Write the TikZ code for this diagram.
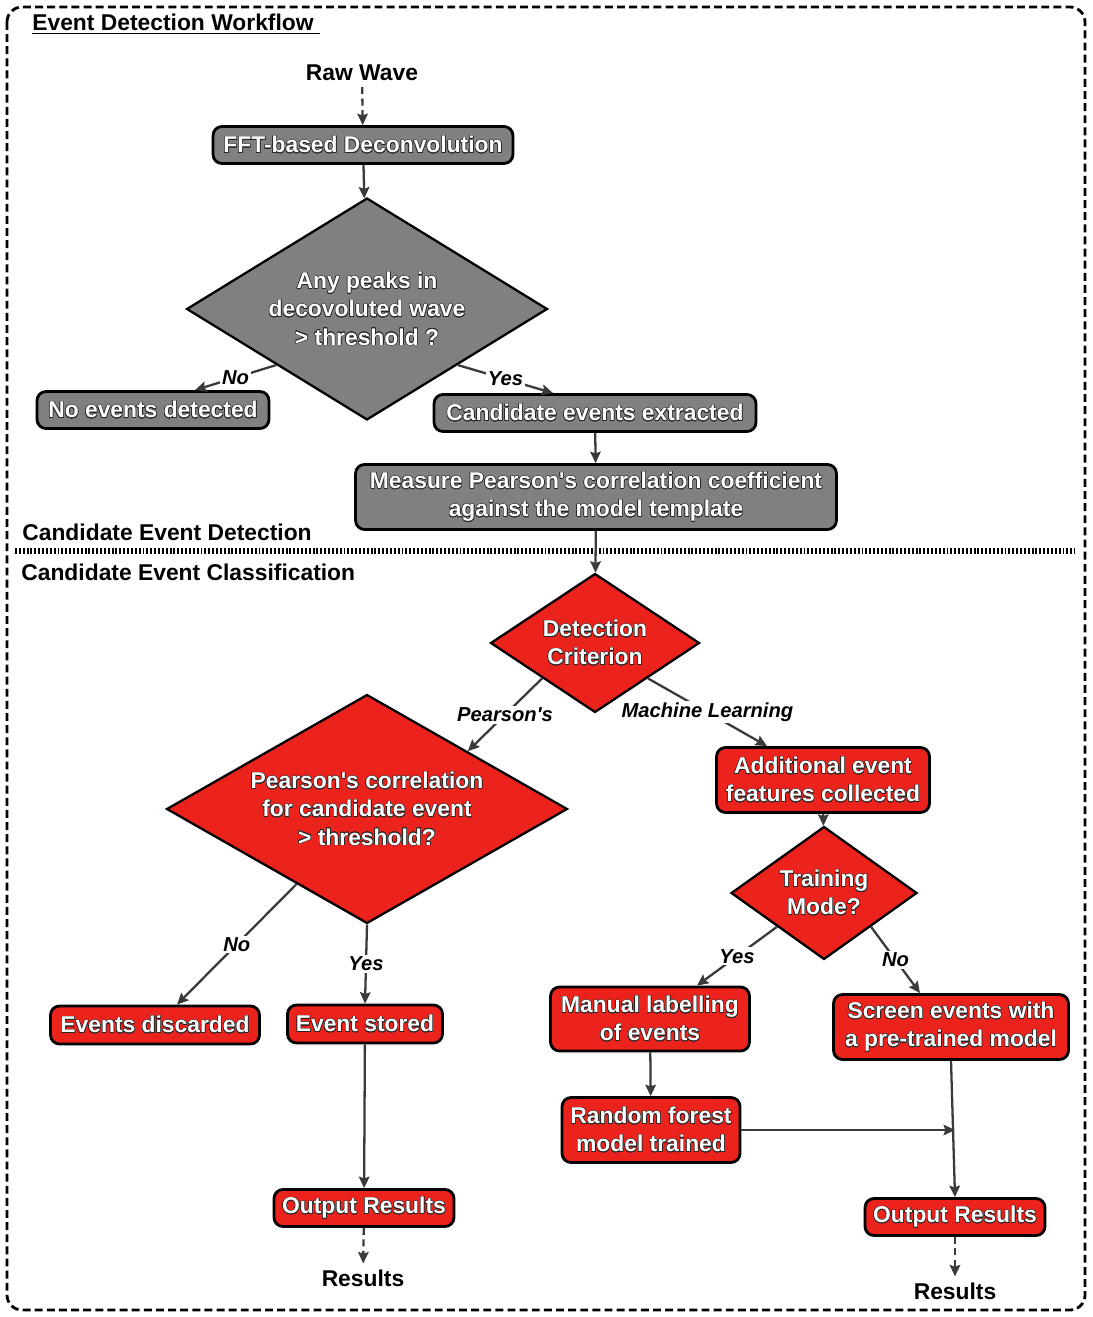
\documentclass[tikz,border=0pt]{standalone}
\usepackage{fontspec}
\setmainfont{Liberation Sans}
\usepackage{contour}
\contourlength{0.3pt}
\usetikzlibrary{arrows.meta,calc,shapes}
\definecolor{boxred}{RGB}{236,34,29}
\definecolor{boxgray}{RGB}{128,128,128}
\definecolor{linegray}{RGB}{58,58,58}
\newcommand{\ol}[1]{\contour{black!85}{#1}}

\begin{document}
\begin{tikzpicture}[x=0.02cm,y=-0.02cm]
\tikzset{>={Stealth[length=6.5pt,width=6pt,inset=1pt]},
  txt/.style={font=\fontsize{13}{16}\selectfont\bfseries},
  head/.style={txt,anchor=west,inner sep=0pt},
  box/.style={txt,draw=black,line width=1.6pt,rounded corners=0.18cm,text=white,align=center,inner sep=2pt},
  graybox/.style={box,fill=boxgray},
  redbox/.style={box,fill=boxred},
  decide/.style={txt,diamond,draw=black,line width=1.3pt,text=white,align=center,inner sep=0pt},
  flow/.style={->,draw=linegray,line width=1.3pt},
  dashflow/.style={flow,dash pattern=on 4pt off 2.5pt},
  lbl/.style={fill=white,inner sep=1pt,text=black,font=\fontsize{11.5}{14}\selectfont\bfseries\itshape}}
\useasboundingbox (0,0) rectangle (1092,1317);
\draw[line width=1.6pt,dash pattern=on 4.5pt off 2.4pt,rounded corners=0.3cm] (7,7) rectangle (1085,1310);
\draw[line width=3pt,dash pattern=on 1.1pt off 1.1pt] (15,551) -- (1075,551);

\node[head] (title) at (32,24) {\underline{Event Detection Workflow\ }};
\node[head] (detect) at (22,532) {Candidate Event Detection};
\node[head] (classify) at (21,572) {Candidate Event Classification};

\node[txt] (raw) at (362,73) {Raw Wave};
\node[graybox,minimum width=6cm,minimum height=0.74cm] (fft) at (363,145) {\ol{FFT-based Deconvolution}};
\node[decide,fill=boxgray,aspect=1.63,minimum width=7.22cm,minimum height=4.44cm] (peaks) at (367,309) {\ol{Any peaks in}\\\ol{decovoluted wave}\\\ol{> threshold ?}};
\node[graybox,minimum width=4.64cm,minimum height=0.74cm] (noev) at (153,410) {\ol{No events detected}};
\node[graybox,minimum width=6.44cm,minimum height=0.74cm] (cand) at (595,413) {\ol{Candidate events extracted}};
\node[graybox,minimum width=9.62cm,minimum height=1.3cm] (pcc) at (596,497) {\ol{Measure Pearson\textquotesingle s correlation coefficient}\\\ol{against the model template}};

\node[decide,fill=boxred,aspect=1.5,minimum width=4.18cm,minimum height=2.78cm] (crit) at (595,643) {\ol{Detection}\\\ol{Criterion}};
\node[decide,fill=boxred,aspect=1.75,minimum width=8.02cm,minimum height=4.58cm] (pear) at (367,809) {\ol{Pearson\textquotesingle s correlation}\\\ol{for candidate event}\\\ol{> threshold?}};
\node[redbox,minimum width=4.26cm,minimum height=1.3cm] (feat) at (823,780) {\ol{Additional event}\\\ol{features collected}};
\node[decide,fill=boxred,aspect=1.4,minimum width=3.72cm,minimum height=2.66cm] (mode) at (824,893) {\ol{Training}\\\ol{Mode?}};
\node[redbox,minimum width=4.18cm,minimum height=0.76cm] (disc) at (155,1025) {\ol{Events discarded}};
\node[redbox,minimum width=3.1cm,minimum height=0.76cm] (stored) at (365,1024) {\ol{Event stored}};
\node[redbox,minimum width=3.98cm,minimum height=1.28cm] (manual) at (650,1019) {\ol{Manual labelling}\\\ol{of events}};
\node[redbox,minimum width=4.7cm,minimum height=1.3cm] (screen) at (951,1027) {\ol{Screen events with}\\\ol{a pre-trained model}};
\node[redbox,minimum width=3.56cm,minimum height=1.3cm] (forest) at (651,1130) {\ol{Random forest}\\\ol{model trained}};
\node[redbox,minimum width=3.6cm,minimum height=0.74cm] (outA) at (364,1208) {\ol{Output Results}};
\node[redbox,minimum width=3.6cm,minimum height=0.74cm] (outB) at (955,1217) {\ol{Output Results}};
\node[txt] (resA) at (363,1278) {Results};
\node[txt] (resB) at (955,1291) {Results};

\draw[dashflow] (raw) -- (fft);
\draw[flow] (fft) -- (peaks);
\draw[flow] (peaks.south west) -- node[lbl] {No} ([xshift=0.84cm]noev.north);
\draw[flow] (peaks.south east) -- node[lbl] {Yes} ([xshift=-0.84cm]cand.north);
\draw[flow] (cand) -- (pcc);
\draw[flow] (pcc) -- (crit);
\draw[flow] (crit.south west) -- node[lbl] {Pearson\textquotesingle s} (pear.north east);
\draw[flow] (crit.south east) -- node[lbl] {Machine Learning} ([xshift=-1.12cm]feat.north);
\draw[flow] (feat) -- (mode);
\draw[flow] ($(pear.west)!0.65!(pear.south)$) -- node[lbl] {No} ([xshift=0.44cm]disc.north);
\draw[flow] (pear.south) -- node[lbl] {Yes} (stored.north);
\draw[flow] (stored) -- (outA);
\draw[dashflow] (outA) -- (resA);
\draw[flow] (mode.south west) -- node[lbl] {Yes} ([xshift=0.94cm]manual.north);
\draw[flow] (mode.south east) -- node[lbl] {No} ([xshift=-0.62cm]screen.north);
\draw[flow] (manual) -- (forest);
\draw[flow] (screen.south) -- (outB.north);
\coordinate (join) at (forest.east -| outB.north);
\draw[flow] (forest.east) -- (join);
\draw[dashflow] (outB) -- (resB);

\end{tikzpicture}
\end{document}
